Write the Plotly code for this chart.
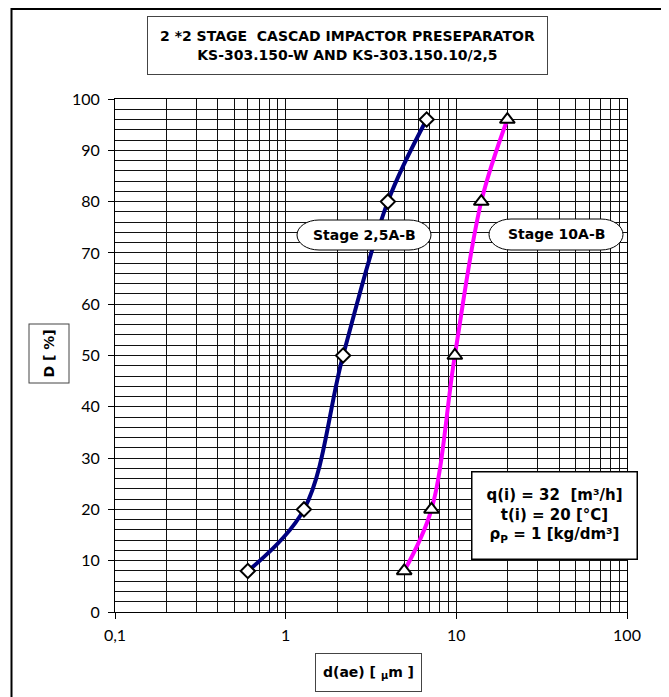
import plotly.graph_objects as go

# ---- data ----
stage25_x = [0.6, 1.28, 2.17, 3.97, 6.7]
stage25_y = [8, 20, 50, 80, 96]
stage10_x = [4.95, 7.15, 9.8, 14.0, 19.9]
stage10_y = [8, 20, 50, 80, 96]
x_tickvals = [0.1, 1, 10, 100]
x_ticktext = ["0,1", "1", "10", "100"]

OFF = 8  # page body margin
W, H = 669 - OFF, 697 - OFF
L, R, T, B = 107, 42, 91, 85
PW, PH = W - L - R, H - T - B

def px(x):  # reference-window pixel -> paper
    return (x - OFF - L) / PW

def py(y):
    return (H - B - (y - OFF)) / PH

FONT = "Lato"
BFONT = "DejaVu Sans"

fig = go.Figure()
fig.add_trace(go.Scatter(
    x=stage25_x, y=stage25_y, mode="lines+markers",
    line=dict(color="#000080", width=4, shape="spline", smoothing=1.0),
    marker=dict(symbol="diamond", size=11, color="white", line=dict(color="black", width=2)),
    showlegend=False))
fig.add_trace(go.Scatter(
    x=stage10_x, y=stage10_y, mode="lines+markers",
    line=dict(color="#FF00FF", width=4, shape="spline", smoothing=1.0),
    marker=dict(symbol="triangle-up", size=13, color="white", line=dict(color="black", width=2)),
    showlegend=False))

grid = "#111111"
fig.update_xaxes(
    type="log", range=[-1, 2],
    tickvals=x_tickvals, ticktext=x_ticktext,
    ticks="outside", ticklen=6, tickcolor="black",
    showline=True, linecolor="black", linewidth=1, mirror=True,
    showgrid=True, gridcolor=grid, gridwidth=1,
    minor=dict(dtick="D1", showgrid=True, gridcolor=grid, gridwidth=1, ticks=""),
    tickfont=dict(family=FONT, size=16, color="black"),
    ticklabelstandoff=3,
    zeroline=False)
fig.update_yaxes(
    range=[0, 100], dtick=10,
    ticks="outside", ticklen=6, tickcolor="black",
    showline=True, linecolor="black", linewidth=1, mirror=True,
    showgrid=True, gridcolor=grid, gridwidth=1,
    minor=dict(dtick=2, showgrid=True, gridcolor=grid, gridwidth=1, ticks=""),
    tickfont=dict(family=FONT, size=16, color="black"),
    ticklabelstandoff=5,
    zeroline=False)

def pill(x0, y0, x1, y1, rx):
    ym = (y0 + y1) / 2
    k = 0.5523
    d = (f"M {px(x0+rx)} {py(y0)} L {px(x1-rx)} {py(y0)} "
         f"C {px(x1-rx+k*rx)} {py(y0)} {px(x1)} {py(ym-(ym-y0)*k)} {px(x1)} {py(ym)} "
         f"C {px(x1)} {py(ym+(y1-ym)*k)} {px(x1-rx+k*rx)} {py(y1)} {px(x1-rx)} {py(y1)} "
         f"L {px(x0+rx)} {py(y1)} "
         f"C {px(x0+rx-k*rx)} {py(y1)} {px(x0)} {py(ym+(y1-ym)*k)} {px(x0)} {py(ym)} "
         f"C {px(x0)} {py(ym-(ym-y0)*k)} {px(x0+rx-k*rx)} {py(y0)} {px(x0+rx)} {py(y0)} Z")
    return dict(type="path", xref="paper", yref="paper", path=d,
                line=dict(color="black", width=1), fillcolor="white", layer="above")

shapes = [
    dict(type="rect", xref="paper", yref="paper",
         x0=px(11.5), x1=px(700), y0=py(720), y1=py(9),
         line=dict(color="black", width=2), fillcolor="rgba(0,0,0,0)", layer="below"),
    pill(297, 220, 431, 250, 22),
    pill(489, 219, 623, 250, 22),
]

annotations = [
    dict(xref="paper", yref="paper", x=px(347.5), y=py(46), xanchor="center", yanchor="middle",
         text="<b>2 *2 STAGE \u00a0CASCAD IMPACTOR PRESEPARATOR</b><br><b>KS-303.150-W AND KS-303.150.10/2,5</b>",
         showarrow=False, font=dict(family=BFONT, size=14, color="black"),
         bordercolor="#444", borderwidth=1, borderpad=4, bgcolor="white",
         width=391, height=49, align="center"),
    dict(xref="paper", yref="paper", x=px(364), y=py(235), xanchor="center", yanchor="middle",
         text="<b>Stage 2,5A-B</b>", showarrow=False,
         font=dict(family=BFONT, size=14, color="black")),
    dict(xref="paper", yref="paper", x=px(556), y=py(234.5), xanchor="center", yanchor="middle",
         text="<b>Stage 10A-B</b>", showarrow=False,
         font=dict(family=BFONT, size=14, color="black")),
    dict(xref="paper", yref="paper", x=px(554), y=py(515.5), xanchor="center", yanchor="middle",
         text="<b>q(i) = 32 \u00a0[m³/h]</b><br><b>t(i) = 20 [°C]</b><br><b>ρ<sub>P</sub> = 1 [kg/dm³]</b>",
         showarrow=False, font=dict(family=BFONT, size=15, color="black"),
         bordercolor="black", borderwidth=1.5, borderpad=3, bgcolor="white",
         width=158, height=80, align="center"),
    dict(xref="paper", yref="paper", x=px(49), y=py(353.5), xanchor="center", yanchor="middle",
         text="<b>D [ %]</b>", textangle=-90, showarrow=False,
         font=dict(family=BFONT, size=14, color="black"),
         bordercolor="#444", borderwidth=1, borderpad=3, bgcolor="white",
         width=52, height=33),
    dict(xref="paper", yref="paper", x=px(368.7), y=py(672), xanchor="center", yanchor="middle",
         text="<b>d(ae) [ <sub>μ</sub>m ]</b>", showarrow=False,
         font=dict(family=BFONT, size=14, color="black"),
         bordercolor="#444", borderwidth=1, borderpad=3, bgcolor="white",
         width=99, height=31),
]

fig.update_layout(
    width=W, height=H,
    margin=dict(l=L, r=R, t=T, b=B, pad=0),
    paper_bgcolor="white", plot_bgcolor="white",
    shapes=shapes, annotations=annotations,
    font=dict(family=FONT, color="black"),
)

fig.write_html("out.html")
